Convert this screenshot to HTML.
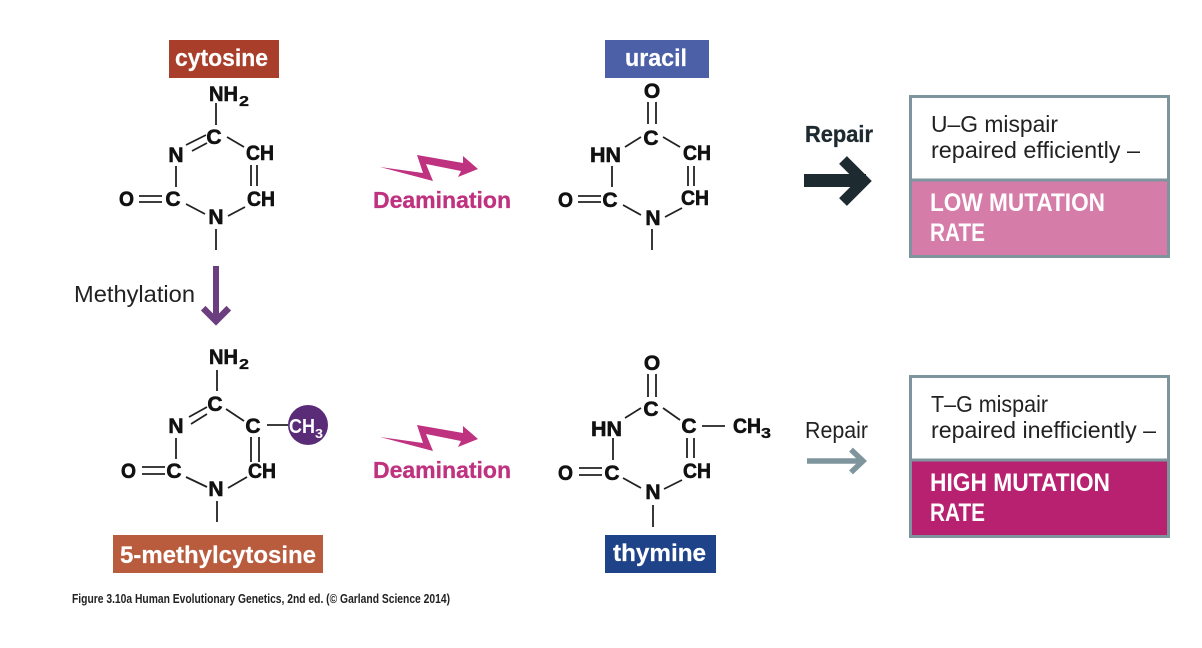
<!DOCTYPE html>
<html><head><meta charset="utf-8">
<style>
html,body{margin:0;padding:0;background:#fff;width:1202px;height:648px;overflow:hidden}
svg{display:block}
text{font-family:"Liberation Sans",sans-serif}
.a{font-weight:bold;font-size:21px;fill:#111;stroke:#111;stroke-width:.6}
.s{font-weight:bold;font-size:15px;fill:#111;stroke:#111;stroke-width:.3}
.m{text-anchor:middle}
.b{stroke:#222;stroke-width:1.800;fill:none}
.l{font-weight:bold;font-size:24px;fill:#fff;stroke:#fff;stroke-width:.2}
.d{font-weight:bold;font-size:23px;fill:#bf327f;stroke:#bf327f;stroke-width:.3}
.r{font-size:23px;fill:#222}
.w{font-weight:bold;font-size:25px;fill:#fff}
</style></head><body>
<svg width="1202" height="648" viewBox="0 0 1202 648" xmlns="http://www.w3.org/2000/svg">
<rect width="1202" height="648" fill="#fff"/>

<!-- Cytosine -->
<rect x="169" y="40" width="110" height="38" fill="#a93e2a"/>
<text class="l" x="175" y="66" textLength="93" lengthAdjust="spacingAndGlyphs">cytosine</text>
<text class="a" x="209" y="101" textLength="29" lengthAdjust="spacingAndGlyphs">NH</text><text class="s" x="239" y="106" textLength="10" lengthAdjust="spacingAndGlyphs">2</text>
<text class="a m" x="214" y="144">C</text>
<text class="a m" x="176" y="162">N</text>
<text class="a" x="246" y="160" textLength="28" lengthAdjust="spacingAndGlyphs">CH</text>
<text class="a" x="247" y="206" textLength="28" lengthAdjust="spacingAndGlyphs">CH</text>
<text class="a" x="119" y="206" textLength="15" lengthAdjust="spacingAndGlyphs">O</text>
<text class="a m" x="173" y="206">C</text>
<text class="a m" x="216" y="224">N</text>
<path class="b" d="M216 103V125M186 145L206 135M192 151L207 143M227 137L244 147M251 165V186M257 165V186M176 166V187M139 196H162M139 202H162M186 204L205 214M228 216L245 207M216 229V250"/>

<!-- Methylation -->
<text class="r" x="74" y="302" textLength="121" lengthAdjust="spacingAndGlyphs">Methylation</text>
<path d="M216 266V322" stroke="#6b3f7f" stroke-width="6" fill="none"/>
<path d="M205.500 310.500L216 321L226.500 310.500" stroke="#6b3f7f" stroke-width="6.500" fill="none" stroke-linecap="square"/>

<!-- 5-methylcytosine -->
<text class="a" x="209" y="364" textLength="29" lengthAdjust="spacingAndGlyphs">NH</text><text class="s" x="239" y="369" textLength="10" lengthAdjust="spacingAndGlyphs">2</text>
<text class="a m" x="215" y="411">C</text>
<text class="a m" x="176" y="433">N</text>
<text class="a m" x="253" y="433">C</text>
<text class="a" x="248" y="478" textLength="28" lengthAdjust="spacingAndGlyphs">CH</text>
<text class="a" x="121" y="478" textLength="15" lengthAdjust="spacingAndGlyphs">O</text>
<text class="a m" x="174" y="478">C</text>
<text class="a m" x="216" y="496">N</text>
<path class="b" d="M217 370V391M189 417L207 407M191 424L207 414M226 409L244 421M267 425H288M251 437V462M259 437V462M176 438V459M142 467H165M142 474H165M186 477L207 487M228 488L247 477M217 501V522"/>
<circle cx="308" cy="425" r="20" fill="#5a2c78"/>
<text x="289" y="433" font-size="20" font-weight="bold" fill="#fff" textLength="26" lengthAdjust="spacingAndGlyphs">CH</text>
<text x="315" y="438" font-size="13" font-weight="bold" fill="#fff" textLength="8" lengthAdjust="spacingAndGlyphs">3</text>
<rect x="113" y="535" width="210" height="38" fill="#b95b3d"/>
<text class="l" x="120" y="563" textLength="196" lengthAdjust="spacingAndGlyphs">5-methylcytosine</text>

<!-- Deamination -->
<path fill="#bf327f" d="M380 167L423 173L417 155L463 163L463 156L478 169L458 177L461 171L426 164L433 181Z"/>
<text class="d" x="373" y="208" textLength="138" lengthAdjust="spacingAndGlyphs">Deamination</text>
<path fill="#bf327f" d="M380 437L423 443L417 425L463 433L463 426L478 439L458 447L461 441L426 434L433 451Z"/>
<text class="d" x="373" y="478" textLength="138" lengthAdjust="spacingAndGlyphs">Deamination</text>

<!-- Uracil -->
<rect x="605" y="40" width="104" height="38" fill="#4b60a6"/>
<text class="l" x="625" y="66" textLength="62" lengthAdjust="spacingAndGlyphs">uracil</text>
<text class="a m" x="652" y="98">O</text>
<text class="a m" x="651" y="145">C</text>
<text class="a" x="590" y="162" textLength="31" lengthAdjust="spacingAndGlyphs">HN</text>
<text class="a" x="683" y="160" textLength="28" lengthAdjust="spacingAndGlyphs">CH</text>
<text class="a" x="681" y="205" textLength="28" lengthAdjust="spacingAndGlyphs">CH</text>
<text class="a" x="558" y="207" textLength="15" lengthAdjust="spacingAndGlyphs">O</text>
<text class="a m" x="610" y="207">C</text>
<text class="a m" x="653" y="225">N</text>
<path class="b" d="M648 102V124M656 102V124M625 147L641 137M663 137L680 147M688 166V186M694 166V186M612 166V187M578 196H601M578 202H601M623 205L641 215M665 217L682 208M652 229V250"/>

<!-- Thymine -->
<text class="a m" x="652" y="370">O</text>
<text class="a m" x="651" y="416">C</text>
<text class="a" x="591" y="436" textLength="31" lengthAdjust="spacingAndGlyphs">HN</text>
<text class="a m" x="689" y="433">C</text>
<text class="a" x="733" y="433" textLength="28" lengthAdjust="spacingAndGlyphs">CH</text><text class="s" x="761" y="438" textLength="10" lengthAdjust="spacingAndGlyphs">3</text>
<text class="a" x="683" y="478" textLength="28" lengthAdjust="spacingAndGlyphs">CH</text>
<text class="a" x="558" y="480" textLength="15" lengthAdjust="spacingAndGlyphs">O</text>
<text class="a m" x="612" y="480">C</text>
<text class="a m" x="653" y="499">N</text>
<path class="b" d="M648 374V397M656 374V397M625 418L641 408M663 408L680 420M702 426H725M687 438V458M694 438V458M613 438V460M579 468H602M579 475H602M623 478L641 488M664 489L682 480M653 505V527"/>
<rect x="605" y="535" width="111" height="38" fill="#1f4389"/>
<text class="l" x="613" y="561" textLength="93" lengthAdjust="spacingAndGlyphs">thymine</text>

<!-- Repair top -->
<text x="805" y="142" font-size="23" font-weight="bold" fill="#1d2a30" stroke="#1d2a30" stroke-width=".3" textLength="68" lengthAdjust="spacingAndGlyphs">Repair</text>
<path d="M804 180.500H866" stroke="#1d2a30" stroke-width="13" fill="none"/>
<path d="M843 160L864 181L843 202" stroke="#1d2a30" stroke-width="11" fill="none"/>
<rect x="910.500" y="96.500" width="258" height="160" fill="#fff" stroke="#7f959e" stroke-width="3"/>
<rect x="912" y="180" width="255" height="75" fill="#d67ca9"/>
<rect x="912" y="178.500" width="255" height="3" fill="#7f959e"/>
<text class="r" x="931" y="132" textLength="127" lengthAdjust="spacingAndGlyphs">U–G mispair</text>
<text class="r" x="931" y="158" textLength="209" lengthAdjust="spacingAndGlyphs">repaired efficiently –</text>
<text class="w" x="930" y="211" textLength="175" lengthAdjust="spacingAndGlyphs">LOW MUTATION</text>
<text class="w" x="930" y="241" textLength="55" lengthAdjust="spacingAndGlyphs">RATE</text>

<!-- Repair bottom -->
<text x="805" y="438" font-size="23" fill="#222" textLength="63" lengthAdjust="spacingAndGlyphs">Repair</text>
<path d="M807 461H864" stroke="#7f959e" stroke-width="5.500" fill="none"/>
<path d="M853 451.500L863 461L853 470.500" stroke="#7f959e" stroke-width="5.500" fill="none" stroke-linecap="square"/>
<rect x="910.500" y="376.500" width="258" height="160" fill="#fff" stroke="#7f959e" stroke-width="3"/>
<rect x="912" y="460" width="255" height="75" fill="#b82070"/>
<rect x="912" y="458.500" width="255" height="3" fill="#7f959e"/>
<text class="r" x="931" y="412" textLength="117" lengthAdjust="spacingAndGlyphs">T–G mispair</text>
<text class="r" x="931" y="438" textLength="225" lengthAdjust="spacingAndGlyphs">repaired inefficiently –</text>
<text class="w" x="930" y="491" textLength="180" lengthAdjust="spacingAndGlyphs">HIGH MUTATION</text>
<text class="w" x="930" y="521" textLength="55" lengthAdjust="spacingAndGlyphs">RATE</text>

<!-- Caption -->
<text x="72" y="603" font-size="13" font-weight="bold" fill="#222" textLength="378" lengthAdjust="spacingAndGlyphs">Figure 3.10a  Human Evolutionary Genetics, 2nd ed. (© Garland Science 2014)</text>
</svg>
</body></html>
